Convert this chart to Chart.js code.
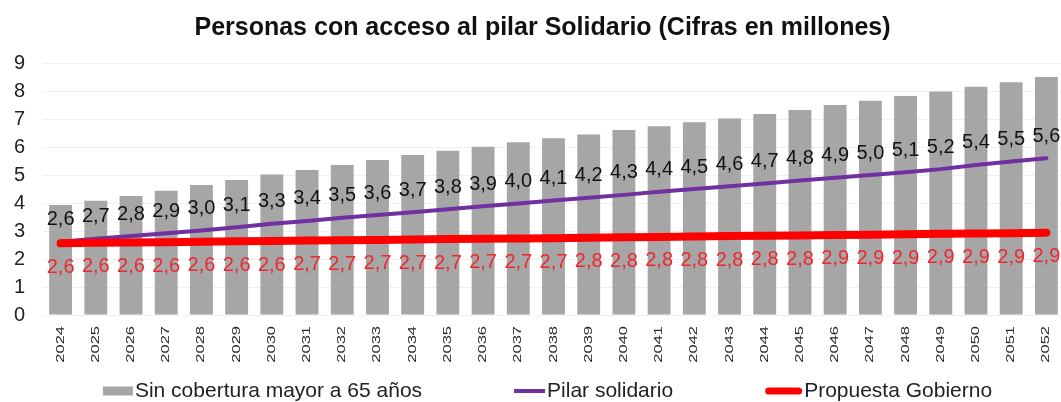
<!DOCTYPE html>
<html>
<head>
<meta charset="utf-8">
<title>Personas con acceso al pilar Solidario</title>
<script src="https://cdn.jsdelivr.net/npm/chart.js@4.4.1/dist/chart.umd.min.js"></script>
<style>
  html, body { margin: 0; padding: 0; overflow: hidden; background: #ffffff; }
  canvas { display: block; }
</style>
</head>
<body>
<canvas id="chart" width="1085" height="402"></canvas>
<script>
// Years on the category axis
const years = [2024, 2025, 2026, 2027, 2028, 2029, 2030, 2031, 2032, 2033,
               2034, 2035, 2036, 2037, 2038, 2039, 2040, 2041, 2042, 2043,
               2044, 2045, 2046, 2047, 2048, 2049, 2050, 2051, 2052];

// People over 65 without coverage (millions)
const sinCobertura = [3.93, 4.08, 4.25, 4.44, 4.64, 4.82, 5.02, 5.18, 5.36, 5.54,
                      5.71, 5.87, 6.01, 6.17, 6.31, 6.45, 6.61, 6.74, 6.88, 7.02,
                      7.18, 7.32, 7.50, 7.65, 7.82, 7.98, 8.15, 8.31, 8.50];

// Solidarity pillar (millions); labels show one decimal
const pilarSolidario = [2.62, 2.72, 2.82, 2.92, 3.02, 3.13, 3.26, 3.36, 3.47, 3.57,
                        3.67, 3.78, 3.88, 3.98, 4.09, 4.19, 4.29, 4.40, 4.50, 4.60,
                        4.70, 4.80, 4.90, 5.00, 5.10, 5.21, 5.36, 5.48, 5.60];

// Government proposal (millions); labels show one decimal
const propuestaGobierno = [2.56, 2.58, 2.59, 2.60, 2.62, 2.63, 2.64, 2.66, 2.67, 2.68,
                           2.70, 2.71, 2.72, 2.73, 2.74, 2.76, 2.78, 2.79, 2.80, 2.82,
                           2.83, 2.84, 2.86, 2.87, 2.88, 2.90, 2.91, 2.92, 2.94];

// Value axis ticks
const yTicks = [0, 1, 2, 3, 4, 5, 6, 7, 8, 9];

const FONT = '"Liberation Sans", Arial, Helvetica, sans-serif';
const GREY = '#a6a6a6';
const PURPLE = '#7030a0';
const RED = '#ff0000';

const fmt = v => v.toFixed(1).replace('.', ',');

// Value labels for the two line series: above the purple line, below the red one
const labelStyle = {
  1: { color: '#111111', dy: -22 },
  2: { color: '#f0262e', dy: 24 }
};

const valueLabels = {
  id: 'valueLabels',
  afterDatasetsDraw(chart) {
    const ctx = chart.ctx;
    ctx.save();
    ctx.font = '20px ' + FONT;
    ctx.textAlign = 'center';
    ctx.textBaseline = 'middle';
    chart.data.datasets.forEach((ds, i) => {
      const st = labelStyle[i];
      if (!st) return;
      ctx.fillStyle = st.color;
      chart.getDatasetMeta(i).data.forEach((pt, j) => {
        ctx.fillText(fmt(ds.data[j]), pt.x, pt.y + st.dy);
      });
    });
    ctx.restore();
  }
};

// Vertical year labels, drawn with a wide glyph stretch along the text
const yearLabels = {
  id: 'yearLabels',
  afterDraw(chart) {
    const ctx = chart.ctx;
    const xs = chart.scales.x;
    const top = chart.chartArea.bottom + 11;
    ctx.save();
    ctx.font = '11px ' + FONT;
    ctx.fillStyle = '#2a2a2a';
    ctx.textAlign = 'right';
    ctx.textBaseline = 'middle';
    chart.data.labels.forEach((lab, i) => {
      ctx.save();
      ctx.translate(xs.getPixelForTick(i), top);
      ctx.rotate(-Math.PI / 2);
      ctx.scale(1.5, 1);
      ctx.fillText(String(lab), 0, 0);
      ctx.restore();
    });
    ctx.restore();
  }
};

// Legend row under the chart
const legendRow = {
  id: 'legendRow',
  afterDraw(chart) {
    const ctx = chart.ctx;
    const ds = chart.data.datasets;
    const symbols = [
      { kind: 'box', color: GREY, w: 30, h: 9 },
      { kind: 'line', color: PURPLE, w: 31, lw: 4, cap: 'butt' },
      { kind: 'line', color: RED, w: 37, lw: 7, cap: 'round' }
    ];
    const gap = 92, textGap = 2;
    ctx.save();
    ctx.font = '21px ' + FONT;
    const widths = symbols.map((s, i) => s.w + textGap + ctx.measureText(ds[i].label).width);
    const total = widths.reduce((a, b) => a + b, 0) + gap * (symbols.length - 1);
    let x = chart.width / 2 + 5 - total / 2;
    const y = chart.height - 11;
    symbols.forEach((s, i) => {
      if (s.kind === 'box') {
        ctx.fillStyle = s.color;
        ctx.fillRect(x, y - s.h / 2, s.w, s.h);
      } else {
        ctx.strokeStyle = s.color;
        ctx.lineWidth = s.lw;
        ctx.lineCap = s.cap;
        const inset = s.cap === 'round' ? s.lw / 2 : 0;
        ctx.beginPath();
        ctx.moveTo(x + inset, y);
        ctx.lineTo(x + s.w - inset, y);
        ctx.stroke();
      }
      ctx.fillStyle = '#222222';
      ctx.textAlign = 'left';
      ctx.textBaseline = 'middle';
      ctx.fillText(ds[i].label, x + s.w + textGap, y);
      x += widths[i] + gap;
    });
    ctx.restore();
  }
};

new Chart(document.getElementById('chart'), {
  type: 'bar',
  data: {
    labels: years,
    datasets: [
      {
        type: 'bar',
        label: 'Sin cobertura mayor a 65 años',
        data: sinCobertura,
        backgroundColor: GREY,
        borderWidth: 0,
        barPercentage: 0.65,
        categoryPercentage: 1.0,
        order: 3
      },
      {
        type: 'line',
        label: 'Pilar solidario',
        data: pilarSolidario,
        borderColor: PURPLE,
        backgroundColor: PURPLE,
        borderWidth: 4,
        pointRadius: 0,
        tension: 0,
        borderCapStyle: 'round',
        order: 2
      },
      {
        type: 'line',
        label: 'Propuesta Gobierno',
        data: propuestaGobierno,
        borderColor: RED,
        backgroundColor: RED,
        borderWidth: 8,
        pointRadius: 0,
        tension: 0,
        borderCapStyle: 'round',
        order: 1
      }
    ]
  },
  options: {
    responsive: false,
    animation: false,
    events: [],
    layout: { padding: { top: 0, left: 0, right: 0, bottom: 27 } },
    plugins: {
      legend: { display: false },
      tooltip: { enabled: false },
      title: {
        display: true,
        text: 'Personas con acceso al pilar Solidario (Cifras en millones)',
        color: '#111111',
        font: { family: FONT, size: 25, weight: 'bold' },
        padding: { top: 13, bottom: 20 }
      }
    },
    scales: {
      x: {
        grid: { display: false },
        border: { display: false },
        ticks: { display: false },
        afterFit(scale) { scale.height = 60; }
      },
      y: {
        min: yTicks[0],
        max: yTicks[yTicks.length - 1],
        afterBuildTicks(scale) { scale.ticks = yTicks.map(v => ({ value: v })); },
        grid: { color: '#f0f0f0', drawTicks: false },
        border: { display: false },
        ticks: {
          color: '#222222',
          padding: 18,
          font: { family: FONT, size: 20 }
        },
        afterFit(scale) { scale.width = 43; }
      },
      yRight: {
        position: 'right',
        grid: { display: false },
        border: { display: false },
        ticks: { display: false },
        afterFit(scale) { scale.width = 21; }
      }
    }
  },
  plugins: [valueLabels, yearLabels, legendRow]
});
</script>
</body>
</html>
